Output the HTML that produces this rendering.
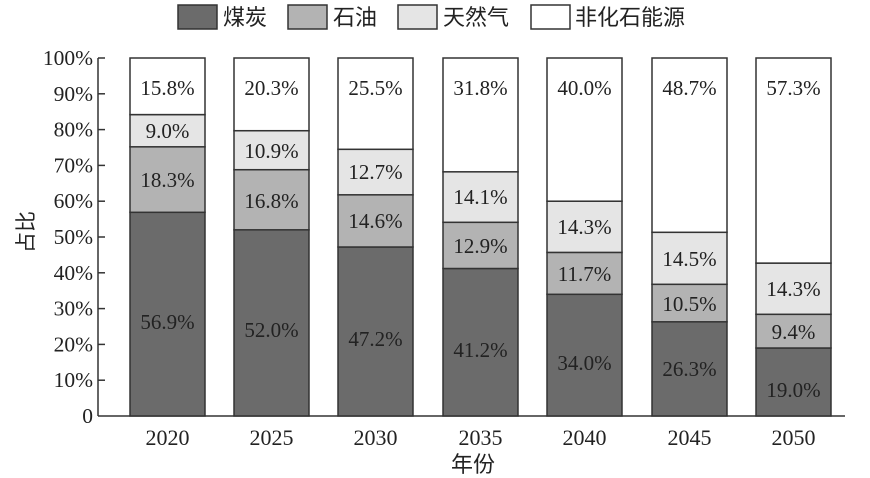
<!DOCTYPE html>
<html><head><meta charset="utf-8"><style>
html,body{margin:0;padding:0;background:#fff;}
svg{display:block;}
text{font-family:"Liberation Serif","Noto Serif CJK SC",serif;fill:#222;}
.cj{font-family:"Liberation Sans","Noto Sans CJK SC",sans-serif;}
</style></head><body>
<svg width="870" height="478" viewBox="0 0 870 478" xmlns="http://www.w3.org/2000/svg">
<g stroke="#333" stroke-width="1.5">
<rect x="178" y="5" width="39" height="24" fill="#6b6b6b"/>
<rect x="288" y="5" width="39" height="24" fill="#b3b3b3"/>
<rect x="398" y="5" width="39" height="24" fill="#e5e5e5"/>
<rect x="531" y="5" width="39" height="24" fill="#fff"/>
</g>
<g class="cj" font-size="22">
<text class="cj" x="223" y="25">煤炭</text>
<text class="cj" x="333" y="25">石油</text>
<text class="cj" x="443" y="25">天然气</text>
<text class="cj" x="575" y="25">非化石能源</text>
</g>
<g stroke="#333" stroke-width="1.5" fill="none">
<line x1="98" y1="58" x2="98" y2="416"/>
<line x1="98" y1="416" x2="845" y2="416"/>
<line x1="98" y1="58" x2="105" y2="58"/>
<line x1="98" y1="93.8" x2="105" y2="93.8"/>
<line x1="98" y1="129.6" x2="105" y2="129.6"/>
<line x1="98" y1="165.4" x2="105" y2="165.4"/>
<line x1="98" y1="201.2" x2="105" y2="201.2"/>
<line x1="98" y1="237" x2="105" y2="237"/>
<line x1="98" y1="272.8" x2="105" y2="272.8"/>
<line x1="98" y1="308.6" x2="105" y2="308.6"/>
<line x1="98" y1="344.4" x2="105" y2="344.4"/>
<line x1="98" y1="380.2" x2="105" y2="380.2"/>
</g>
<g font-size="21.5" text-anchor="end">
<text x="93" y="65">100%</text>
<text x="93" y="100.8">90%</text>
<text x="93" y="136.6">80%</text>
<text x="93" y="172.4">70%</text>
<text x="93" y="208.2">60%</text>
<text x="93" y="244">50%</text>
<text x="93" y="279.8">40%</text>
<text x="93" y="315.6">30%</text>
<text x="93" y="351.4">20%</text>
<text x="93" y="387.2">10%</text>
<text x="93" y="423">0</text>
</g>
<text class="cj" x="0" y="0" font-size="21" transform="translate(33,232) rotate(-90)" text-anchor="middle">占比</text>
<g stroke="#333" stroke-width="1.5">
<rect x="130" y="212.3" width="75" height="203.7" fill="#6b6b6b"/>
<rect x="130" y="146.8" width="75" height="65.5" fill="#b3b3b3"/>
<rect x="130" y="114.6" width="75" height="32.2" fill="#e5e5e5"/>
<rect x="130" y="58" width="75" height="56.6" fill="#fff"/>
<rect x="234" y="229.8" width="75" height="186.2" fill="#6b6b6b"/>
<rect x="234" y="169.7" width="75" height="60.1" fill="#b3b3b3"/>
<rect x="234" y="130.7" width="75" height="39" fill="#e5e5e5"/>
<rect x="234" y="58" width="75" height="72.7" fill="#fff"/>
<rect x="338" y="247" width="75" height="169" fill="#6b6b6b"/>
<rect x="338" y="194.8" width="75" height="52.2" fill="#b3b3b3"/>
<rect x="338" y="149.3" width="75" height="45.5" fill="#e5e5e5"/>
<rect x="338" y="58" width="75" height="91.3" fill="#fff"/>
<rect x="443" y="268.5" width="75" height="147.5" fill="#6b6b6b"/>
<rect x="443" y="222.3" width="75" height="46.2" fill="#b3b3b3"/>
<rect x="443" y="171.8" width="75" height="50.5" fill="#e5e5e5"/>
<rect x="443" y="58" width="75" height="113.8" fill="#fff"/>
<rect x="547" y="294.3" width="75" height="121.7" fill="#6b6b6b"/>
<rect x="547" y="252.4" width="75" height="41.9" fill="#b3b3b3"/>
<rect x="547" y="201.2" width="75" height="51.2" fill="#e5e5e5"/>
<rect x="547" y="58" width="75" height="143.2" fill="#fff"/>
<rect x="652" y="321.8" width="75" height="94.2" fill="#6b6b6b"/>
<rect x="652" y="284.3" width="75" height="37.5" fill="#b3b3b3"/>
<rect x="652" y="232.3" width="75" height="52" fill="#e5e5e5"/>
<rect x="652" y="58" width="75" height="174.3" fill="#fff"/>
<rect x="756" y="348" width="75" height="68" fill="#6b6b6b"/>
<rect x="756" y="314.3" width="75" height="33.7" fill="#b3b3b3"/>
<rect x="756" y="263.1" width="75" height="51.2" fill="#e5e5e5"/>
<rect x="756" y="58" width="75" height="205.1" fill="#fff"/>
</g>
<g font-size="21" text-anchor="middle">
<text x="167.5" y="95">15.8%</text>
<text x="271.5" y="95">20.3%</text>
<text x="375.5" y="95">25.5%</text>
<text x="480.5" y="95">31.8%</text>
<text x="584.5" y="95">40.0%</text>
<text x="689.5" y="95">48.7%</text>
<text x="793.5" y="95">57.3%</text>
<text x="167.5" y="138">9.0%</text>
<text x="271.5" y="158">10.9%</text>
<text x="375.5" y="179">12.7%</text>
<text x="480.5" y="204">14.1%</text>
<text x="584.5" y="234">14.3%</text>
<text x="689.5" y="266">14.5%</text>
<text x="793.5" y="296">14.3%</text>
<text x="167.5" y="187">18.3%</text>
<text x="271.5" y="208">16.8%</text>
<text x="375.5" y="228">14.6%</text>
<text x="480.5" y="253">12.9%</text>
<text x="584.5" y="281">11.7%</text>
<text x="689.5" y="311">10.5%</text>
<text x="793.5" y="339">9.4%</text>
<text x="167.5" y="329">56.9%</text>
<text x="271.5" y="337">52.0%</text>
<text x="375.5" y="346">47.2%</text>
<text x="480.5" y="357">41.2%</text>
<text x="584.5" y="370">34.0%</text>
<text x="689.5" y="376">26.3%</text>
<text x="793.5" y="397">19.0%</text>
</g>
<g font-size="22" text-anchor="middle">
<text x="167.5" y="445">2020</text>
<text x="271.5" y="445">2025</text>
<text x="375.5" y="445">2030</text>
<text x="480.5" y="445">2035</text>
<text x="584.5" y="445">2040</text>
<text x="689.5" y="445">2045</text>
<text x="793.5" y="445">2050</text>
</g>
<text class="cj" x="473" y="472" font-size="22" text-anchor="middle">年份</text>
</svg>
</body></html>
